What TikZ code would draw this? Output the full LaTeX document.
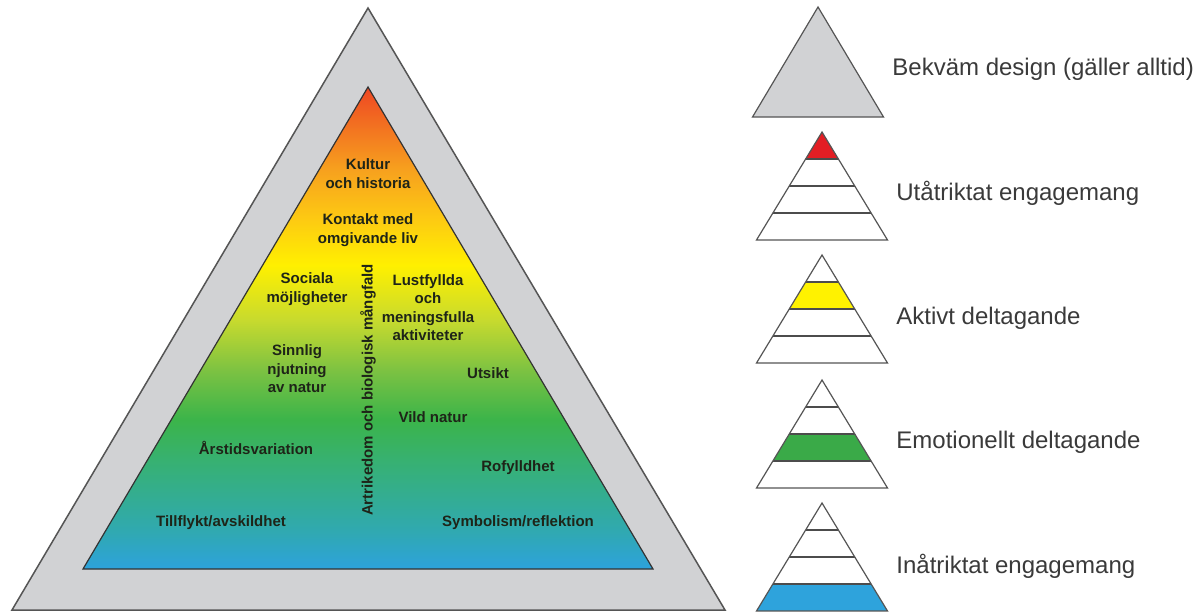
\documentclass[tikz,border=0pt]{standalone}
\usepackage{fontspec}
\setmainfont{Liberation Sans}
\definecolor{cB}{HTML}{2DA2DC}
\definecolor{c1}{HTML}{30A9B0}
\definecolor{c2}{HTML}{36B07A}
\definecolor{c3}{HTML}{3BB44A}
\definecolor{c4}{HTML}{7CC242}
\definecolor{c5}{HTML}{C7DA2E}
\definecolor{c6}{HTML}{FFF000}
\definecolor{c7}{HTML}{FDCB12}
\definecolor{c8}{HTML}{F7A11E}
\definecolor{cR}{HTML}{EE4723}
\definecolor{outerfill}{HTML}{D1D2D4}
\definecolor{edgegray}{HTML}{555555}
\definecolor{labeltext}{HTML}{1E2418}
\definecolor{legtext}{HTML}{3A3A3A}
\definecolor{legred}{HTML}{E31E24}
\definecolor{legyellow}{HTML}{FFF200}
\definecolor{leggreen}{HTML}{3AAA48}
\definecolor{legblue}{HTML}{2EA3DC}
\pgfdeclareverticalshading{pyrshade}{100bp}{color(0bp)=(cB); color(25bp)=(cB); color(29bp)=(c1); color(35.3bp)=(c2); color(40.5bp)=(c3); color(45.6bp)=(c4); color(50.8bp)=(c5); color(56.5bp)=(c6); color(61.2bp)=(c7); color(66.4bp)=(c8); color(75bp)=(cR); color(100bp)=(cR)}
\tikzset{
  pyrlabel/.style={inner sep=0pt, align=center, text=labeltext, font=\bfseries\fontsize{7.5}{9.2}\selectfont},
  leglabel/.style={inner sep=0pt, anchor=west, text=legtext, font=\fontsize{12}{14}\selectfont},
  legedge/.style={draw=edgegray, line width=0.6pt, line join=miter},
  legline/.style={draw=edgegray!90!black, line width=0.8pt},
}
\newcommand\legendtri[3]{%
  \begin{scope}
    \clip (822,#1) -- (756.5,#1+108) -- (887.5,#1+108) -- cycle;
    \fill[#3] (750,{#1+27*(#2-1)}) rectangle (895,{#1+27*#2});
    \foreach \k in {1,2,3} \draw[legline] (750,{#1+27*\k}) -- (895,{#1+27*\k});
  \end{scope}
  \draw[legedge] (822,#1) -- (756.5,#1+108) -- (887.5,#1+108) -- cycle;
}
\begin{document}
\begin{tikzpicture}[x=0.5pt,y=-0.5pt]
\useasboundingbox (0,0) rectangle (1202,612);
\fill[white] (0,0) rectangle (1202,612);
% main pyramid
\draw[fill=outerfill, draw=edgegray, line width=0.75pt] (368,8) -- (12,610) -- (725,610) -- cycle;
\path[shading=pyrshade, draw=black!80, line width=0.6pt] (368,87) -- (83,569) -- (653,569) -- cycle;
% labels
\node[pyrlabel] (kultur) at (368,173.5) {Kultur\\och historia};
\node[pyrlabel] (kontakt) at (368,230) {Kontakt med\\omgivande liv};
\node[pyrlabel] (sociala) at (307,289) {Sociala\\möjligheter};
\node[pyrlabel] (lust) at (428,307.5) {Lustfyllda\\och\\meningsfulla\\aktiviteter};
\node[pyrlabel] (sinnlig) at (297,369) {Sinnlig\\njutning\\av natur};
\node[pyrlabel] (utsikt) at (488,373) {Utsikt};
\node[pyrlabel] (vild) at (433,417) {Vild natur};
\node[pyrlabel] (arstid) at (256,448) {Årstidsvariation};
\node[pyrlabel] (rofyll) at (518,468) {Rofylldhet};
\node[pyrlabel] (tillflykt) at (221,523) {Tillflykt/avskildhet};
\node[pyrlabel] (symbol) at (518,523) {Symbolism/reflektion};
\node[pyrlabel, rotate=90] (artrik) at (368,390) {Artrikedom och biologisk mångfald};
% legend
\draw[legedge, fill=outerfill] (818,7) -- (752.5,117) -- (883.5,117) -- cycle;
\legendtri{132}{1}{legred}
\legendtri{255}{2}{legyellow}
\legendtri{380}{3}{leggreen}
\legendtri{503}{4}{legblue}
\node[leglabel] (lbekvam) at (892,69) {Bekväm design (gäller alltid)};
\node[leglabel] (luta) at (896,193) {Utåtriktat engagemang};
\node[leglabel] (lakt) at (896,318) {Aktivt deltagande};
\node[leglabel] (lemo) at (896,442) {Emotionellt deltagande};
\node[leglabel] (lina) at (896,566) {Inåtriktat engagemang};
\end{tikzpicture}
\end{document}
